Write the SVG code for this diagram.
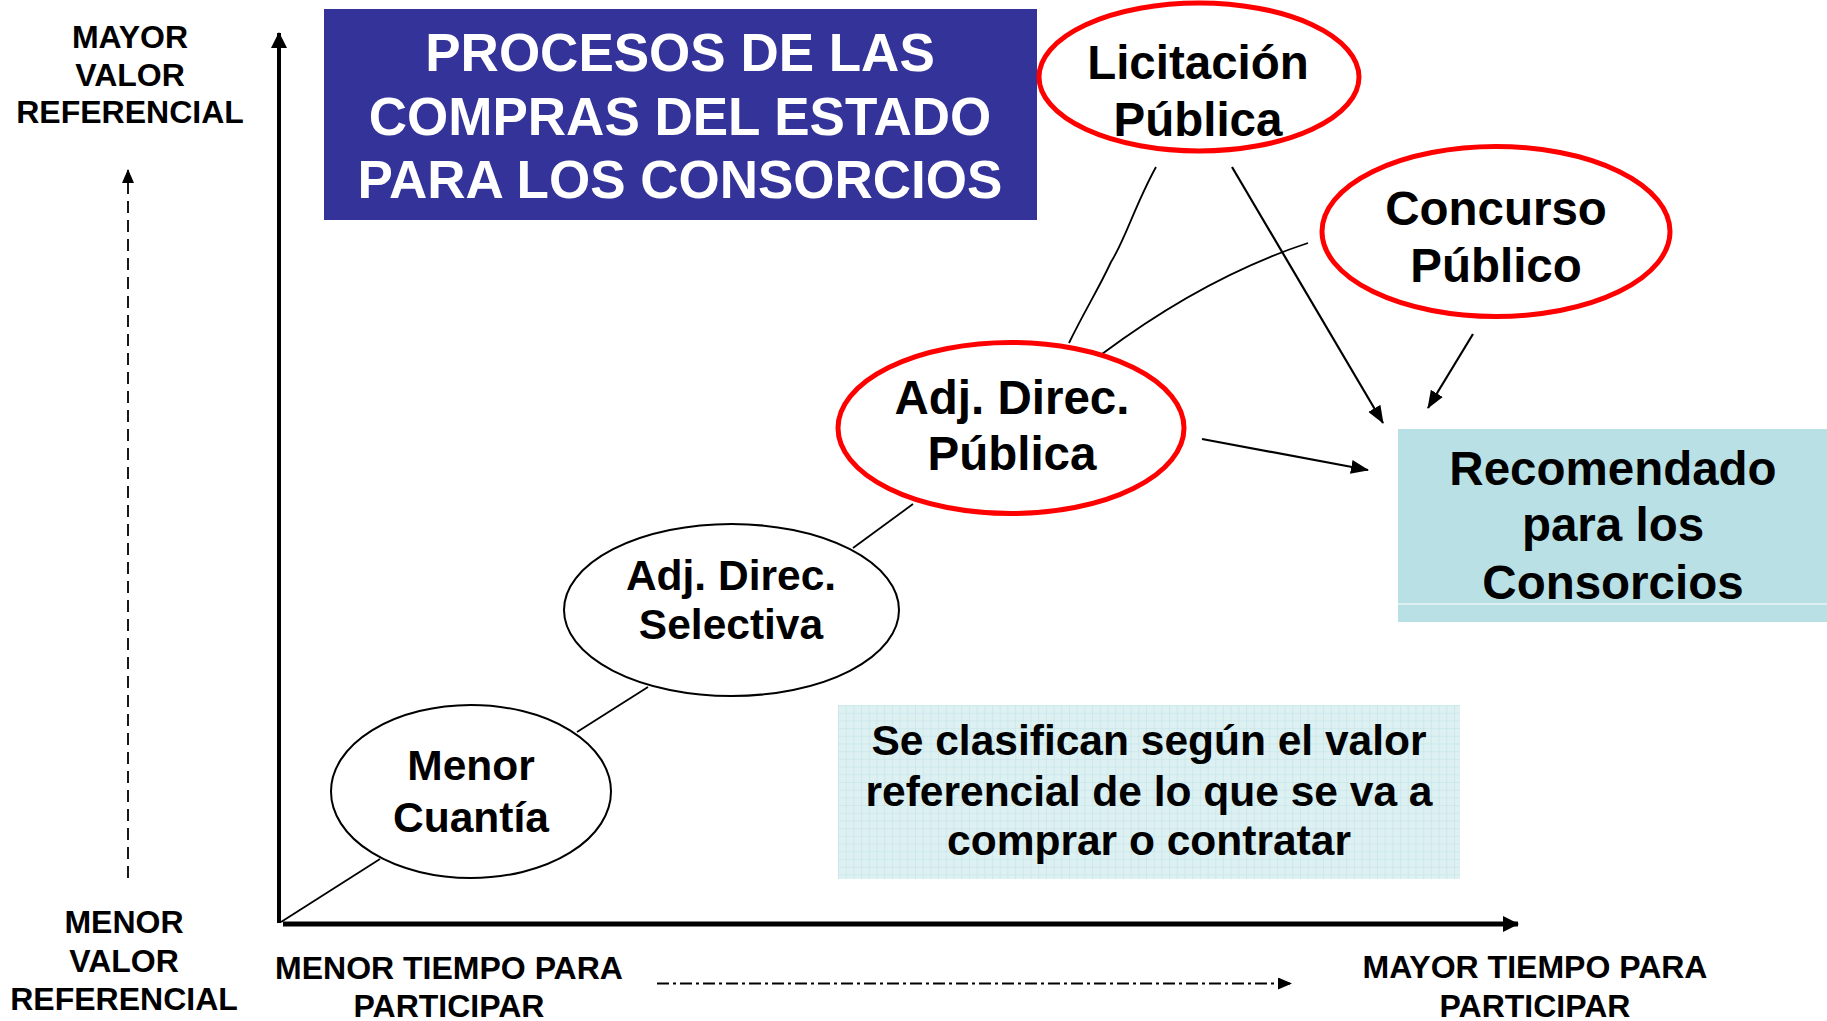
<svg xmlns="http://www.w3.org/2000/svg" width="1827" height="1021" viewBox="0 0 1827 1021">
<style>
text{font-family:"Liberation Sans",Arial,sans-serif;font-weight:bold;text-anchor:middle;fill:#000}
.t{fill:#fff;font-size:53px}
.big{font-size:47.5px}
.mid{font-size:42.5px}
.ax{font-size:32px}
.red{fill:#fff;stroke:#f00;stroke-width:5}
.blk{fill:#fff;stroke:#000;stroke-width:2}
.ln{fill:none;stroke:#000;stroke-width:1.8}
.ar{fill:none;stroke:#000;stroke-width:2.2}
</style>
<defs>
<marker id="ah" markerUnits="userSpaceOnUse" markerWidth="18" markerHeight="14" refX="17" refY="7" orient="auto"><path d="M0,0 L18,7 L0,14 Z" fill="#000"/></marker>
<marker id="axh" markerUnits="userSpaceOnUse" markerWidth="16" markerHeight="16" refX="15" refY="8" orient="auto"><path d="M0,0 L16,8 L0,16 Z" fill="#000"/></marker>
<marker id="sh" markerUnits="userSpaceOnUse" markerWidth="14" markerHeight="12" refX="13" refY="6" orient="auto"><path d="M0,0 L14,6 L0,12 Z" fill="#000"/></marker>
<pattern id="grid" width="7.7" height="7.7" patternUnits="userSpaceOnUse" x="838" y="705"><rect width="7.7" height="7.7" fill="#ddf0f2"/><path d="M0,0 H7.7 M0,0 V7.7" stroke="#bfe2e6" stroke-width="1"/></pattern>
</defs>
<rect width="1827" height="1021" fill="#fff"/>

<g id="axes">
<line x1="279" y1="923" x2="279" y2="33" stroke="#000" stroke-width="4" marker-end="url(#axh)"/>
<line x1="283" y1="924" x2="1518" y2="924" stroke="#000" stroke-width="5" marker-end="url(#axh)"/>
<line x1="128" y1="878" x2="128" y2="170" stroke="#000" stroke-width="1.8" stroke-dasharray="12,7" marker-end="url(#sh)"/>
<line x1="657" y1="983.5" x2="1291" y2="983.5" stroke="#000" stroke-width="2" stroke-dasharray="12,4,3,4" marker-end="url(#sh)"/>
</g>

<g id="title">
<rect x="324" y="9" width="713" height="211" fill="#333399"/>
<text class="t" x="680" y="71">PROCESOS DE LAS</text>
<text class="t" x="680" y="135">COMPRAS DEL ESTADO</text>
<text class="t" x="680" y="198">PARA LOS CONSORCIOS</text>
</g>

<g id="axis-labels">
<text class="ax" x="130" y="47.5">MAYOR</text>
<text class="ax" x="130" y="86">VALOR</text>
<text class="ax" x="130" y="123">REFERENCIAL</text>
<text class="ax" x="124" y="933">MENOR</text>
<text class="ax" x="124" y="972">VALOR</text>
<text class="ax" x="124" y="1010">REFERENCIAL</text>
<text class="ax" x="449" y="979">MENOR TIEMPO PARA</text>
<text class="ax" x="449" y="1017">PARTICIPAR</text>
<text class="ax" x="1535" y="978">MAYOR TIEMPO PARA</text>
<text class="ax" x="1535" y="1017">PARTICIPAR</text>
</g>

<g id="connectors">
<line class="ln" x1="281" y1="922" x2="380" y2="859"/>
<line class="ln" x1="577" y1="732" x2="648" y2="687"/>
<line class="ln" x1="853" y1="548" x2="913" y2="504"/>
<path class="ln" d="M1156,167 C1135,205 1125,240 1111,262 C1098,290 1085,310 1069,343"/>
<path class="ln" d="M1308,243 Q1205,277 1102,354"/>
<line class="ar" x1="1232" y1="167" x2="1383" y2="423" marker-end="url(#ah)"/>
<line class="ar" x1="1473" y1="334" x2="1428" y2="408" marker-end="url(#ah)"/>
<line class="ar" x1="1202" y1="439" x2="1368" y2="470" marker-end="url(#ah)"/>
</g>

<g id="menor-cuantia">
<ellipse class="blk" cx="471" cy="791.5" rx="140" ry="86.5"/>
<text class="mid" x="471" y="780">Menor</text>
<text class="mid" x="471" y="832">Cuantía</text>
</g>

<g id="adj-selectiva">
<ellipse class="blk" cx="731.5" cy="610" rx="167.5" ry="86"/>
<text class="mid" x="731" y="590">Adj. Direc.</text>
<text class="mid" x="731" y="639">Selectiva</text>
</g>

<g id="adj-publica">
<ellipse class="red" cx="1011" cy="428" rx="173" ry="85.5"/>
<text class="big" x="1012" y="414">Adj. Direc.</text>
<text class="big" x="1012" y="470">Pública</text>
</g>

<g id="licitacion">
<ellipse class="red" cx="1199" cy="77" rx="160" ry="74"/>
<text class="big" x="1198" y="79">Licitación</text>
<text class="big" x="1198" y="136">Pública</text>
</g>

<g id="concurso">
<ellipse class="red" cx="1496" cy="231.5" rx="174" ry="85"/>
<text class="big" x="1496" y="225">Concurso</text>
<text class="big" x="1496" y="282">Público</text>
</g>

<g id="recomendado">
<rect x="1398" y="429" width="429" height="193" fill="#b9e0e4"/>
<line x1="1398" y1="604" x2="1827" y2="604" stroke="#fff" stroke-width="1.2"/>
<text class="big" x="1613" y="485">Recomendado</text>
<text class="big" x="1613" y="541">para los</text>
<text class="big" x="1613" y="599">Consorcios</text>
</g>

<g id="clasifican">
<rect x="838" y="705" width="622" height="174" fill="url(#grid)"/>
<text class="mid" x="1149" y="755">Se clasifican según el valor</text>
<text class="mid" x="1149" y="806">referencial de lo que se va a</text>
<text class="mid" x="1149" y="855">comprar o contratar</text>
</g>
</svg>
